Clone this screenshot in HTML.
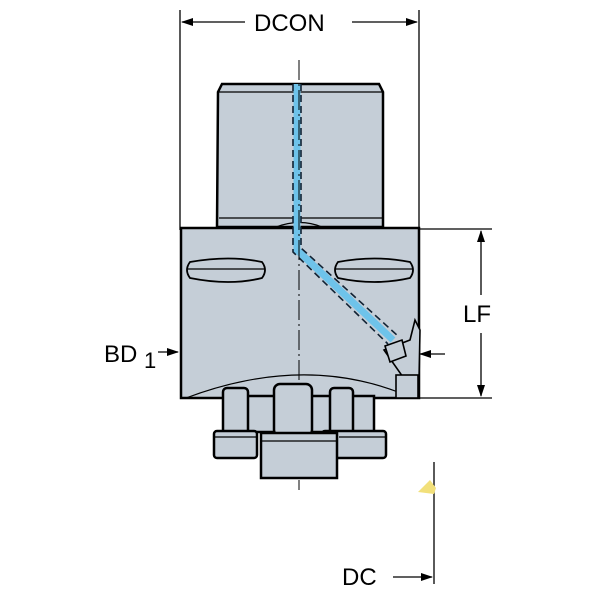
<!DOCTYPE html>
<html><head><style>body{margin:0;background:#fff}svg{display:block}</style></head>
<body>
<svg width="600" height="600" viewBox="0 0 600 600" xmlns="http://www.w3.org/2000/svg" font-family="Liberation Sans, sans-serif">
<defs>
<marker id="ar" markerWidth="12" markerHeight="8" refX="11" refY="4" orient="auto" markerUnits="userSpaceOnUse">
<path d="M0,0 L12,4 L0,8 Z" fill="#000"/></marker>
</defs>
<g stroke="#000" stroke-width="1.3" fill="none">
<line x1="180" y1="10" x2="180" y2="230"/>
<line x1="419" y1="10" x2="419" y2="230"/>
<line x1="245" y1="22" x2="182" y2="22" marker-end="url(#ar)"/>
<line x1="352" y1="22" x2="417" y2="22" marker-end="url(#ar)"/>
<line x1="419" y1="229" x2="492" y2="229"/>
<line x1="419" y1="398" x2="492" y2="398"/>
<line x1="481" y1="295" x2="481" y2="231" marker-end="url(#ar)"/>
<line x1="481" y1="333" x2="481" y2="396" marker-end="url(#ar)"/>
<line x1="434" y1="462" x2="434" y2="584"/>
<line x1="393" y1="577" x2="432" y2="577" marker-end="url(#ar)"/>
<line x1="158" y1="352" x2="178" y2="352" marker-end="url(#ar)"/>
<line x1="445" y1="354" x2="420" y2="354" marker-end="url(#ar)"/>
</g>
<g font-size="24" fill="#000">
<text x="254" y="31">DCON</text>
<text x="463" y="322">LF</text>
<text x="342" y="585">DC</text>
<text x="104" y="362">BD</text>
<text x="144" y="368" font-size="22">1</text>
</g>
<g stroke="#000" stroke-width="2.5" fill="#c5ced7">
<path d="M222,84 L379,84 L383,92 L383,227 L217,227 L218,92 Z"/>
<path d="M181,228 L419,228 L419,398 L181,398 Z"/>
</g>
<g stroke="#000" stroke-width="1.2" fill="none">
<line x1="219" y1="92" x2="382" y2="92"/>
<line x1="219" y1="218" x2="382" y2="218"/>
<path d="M276,227 Q300,218 322,227"/>
<path d="M186,398 Q300,355 398,392"/>
</g>
<g stroke="#000" stroke-width="1.8" fill="#c5ced7">
<path d="M190,262 Q230,255 262,262 Q268,270 262,278 Q230,286 190,278 Q184,270 190,262 Z"/>
<path d="M338,262 Q375,255 410,262 Q416,270 410,278 Q375,286 338,278 Q332,270 338,262 Z"/>
</g>
<g stroke="#000" stroke-width="1.2"><line x1="188" y1="269" x2="264" y2="269"/><line x1="336" y1="269" x2="412" y2="269"/></g>
<path d="M297,84 L297,250 L393,340" stroke="#6ec3ea" stroke-width="7" fill="none"/>
<g stroke="#123" stroke-width="1.6" stroke-dasharray="7,4" fill="none">
<path d="M293,84 L293,252 L388,344"/>
<path d="M301,84 L301,248 L398,336"/>
</g>
<line x1="299" y1="60" x2="299" y2="490" stroke="#000" stroke-width="1" stroke-dasharray="20,4,2,4"/>
<g stroke="#000" stroke-width="1.6" fill="#c5ced7">
<path d="M384,350 L410,340 L415,320 L420,330 L419,380 L405,380 Z"/>
<path d="M385,346 L402,340 L406,356 L390,362 Z"/>
<rect x="396" y="375" width="22" height="23"/>
</g>
<g stroke="#000" stroke-width="2.5" fill="#c5ced7">
<rect x="226" y="396" width="148" height="36"/>
<rect x="223" y="388" width="25" height="46" rx="4"/>
<rect x="330" y="388" width="23" height="46" rx="4"/>
<rect x="214" y="431" width="43" height="27" rx="3"/>
<rect x="322" y="431" width="64" height="27" rx="3"/>
<rect x="274" y="384" width="38" height="52" rx="6"/>
<rect x="261" y="433" width="76" height="45"/>
</g>
<g stroke="#000" stroke-width="1.2">
<line x1="215" y1="437" x2="256" y2="437"/><line x1="339" y1="437" x2="385" y2="437"/><line x1="262" y1="441" x2="336" y2="441"/>
</g>
<path d="M418,492 L430,480 L436,488 L434,494 Z" fill="#f2e07a"/>
</svg>
</body></html>
